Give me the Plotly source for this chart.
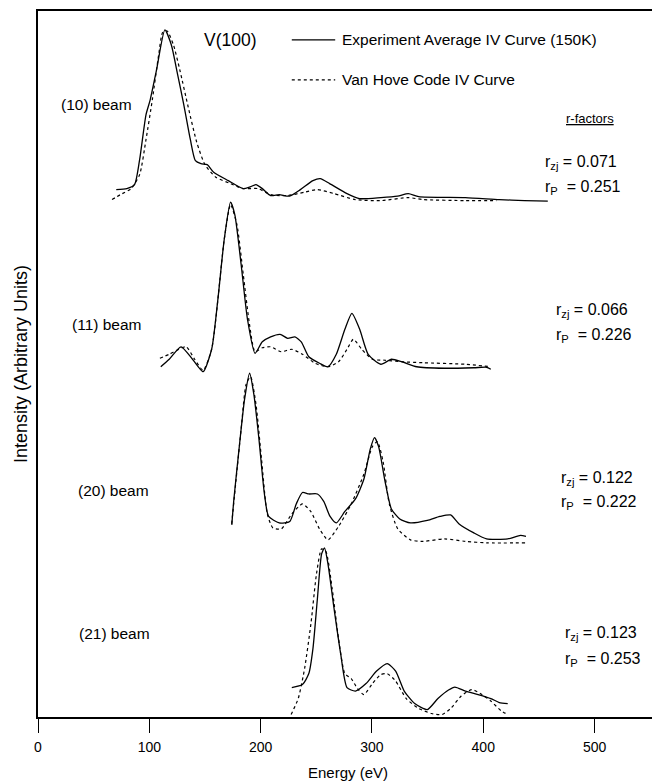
import plotly.graph_objects as go

FONT = "Liberation Sans, Arial, Helvetica, sans-serif"

# ---------------- data (energy in eV, intensity in arbitrary units, beams offset vertically) ----------------
beam_labels = ["(10) beam", "(11) beam", "(20) beam", "(21) beam"]
beam_label_x = [19, 28.5, 34, 35]
beam_label_y = [1227, 787, 454, 167]
r_zj = ["0.071", "0.066", "0.122", "0.123"]
r_p = ["0.251", "0.226", "0.222", "0.253"]
r_x = [454, 464, 468, 471.5]
r_zj_y = [1112, 815, 479, 167]
r_p_y = [1062, 765, 429, 115]

b10_exp_e = [70.3, 79.8, 86.7, 91.3, 97.0, 100.8, 106.5, 114.0, 119.8, 125.5, 131.0, 136.9, 141.4, 146.4, 152.0,
             157.8, 171.0, 184.4, 190.0, 195.8, 201.5, 209.0, 216.7, 226.0, 235.7, 247.0, 253.6, 262.0, 277.6,
             289.0, 308.0, 323.0, 332.7, 342.0, 384.0, 414.4, 437.0, 458.0]
b10_exp_i = [1057, 1059, 1067, 1117, 1207, 1237, 1297, 1377, 1347, 1287, 1227, 1157, 1115, 1109, 1107,
             1092, 1075, 1059, 1062, 1067, 1059, 1045, 1047, 1044, 1057, 1075, 1079, 1069, 1049,
             1039, 1041, 1044, 1049, 1043, 1041, 1037, 1035, 1034]
b10_th_e = [66.5, 74.0, 83.7, 91.3, 97.0, 102.7, 108.4, 112.0, 116.0, 121.7, 127.4, 135.0, 142.6, 150.0, 159.7,
            173.0, 184.4, 197.7, 209.0, 224.0, 239.5, 251.0, 266.0, 285.0, 308.0, 332.7, 346.0, 384.0, 412.0]
b10_th_i = [1037, 1047, 1059, 1087, 1157, 1237, 1327, 1372, 1375, 1347, 1297, 1222, 1152, 1107, 1082,
            1069, 1059, 1059, 1047, 1045, 1052, 1057, 1049, 1037, 1035, 1041, 1037, 1035, 1035]

b11_exp_e = [110.3, 117.9, 128.5, 138.8, 148.3, 156.0, 161.6, 167.3, 173.0, 176.8, 182.5, 188.2, 195.0, 201.5,
             209.0, 217.5, 224.3, 230.8, 236.5, 243.3, 252.9, 260.5, 268.0, 275.7, 282.0, 289.0, 296.6, 308.0,
             317.5, 327.0, 340.3, 365.0, 391.6, 403.0, 406.8]
b11_exp_i = [702, 717, 742, 717, 692, 737, 837, 957, 1032, 1007, 907, 797, 729, 752,
             762, 767, 759, 762, 752, 722, 709, 702, 727, 777, 809, 777, 727, 707,
             717, 712, 702, 699, 700, 701, 697]
b11_th_e = [109.5, 117.9, 133.0, 140.7, 148.3, 156.0, 167.3, 173.0, 178.7, 184.4, 190.0, 195.0, 201.5, 209.0,
            218.6, 228.0, 237.6, 249.0, 260.5, 270.0, 277.6, 283.3, 290.9, 300.4, 312.0, 327.0, 346.0, 384.0,
            406.8]
b11_th_i = [719, 727, 742, 717, 695, 737, 957, 1027, 987, 887, 787, 732, 740, 742,
            732, 737, 727, 709, 702, 712, 737, 757, 737, 717, 715, 712, 710, 707,
            702]

b20_exp_e = [174.1, 176.0, 180.6, 185.6, 190.1, 193.9, 198.5, 203.4, 207.2, 216.7, 226.2, 232.0, 237.6, 243.3,
             251.0, 256.7, 262.4, 268.0, 275.7, 285.2, 292.8, 298.5, 302.3, 306.0, 311.8, 317.5, 325.0, 334.6,
             349.8, 361.0, 370.7, 378.3, 391.6, 403.0, 422.0, 433.5, 438.4]
b20_exp_i = [385, 437, 537, 637, 689, 647, 557, 447, 402, 389, 392, 427, 450, 447,
             447, 432, 402, 389, 412, 437, 477, 537, 560, 542, 472, 417, 397, 389,
             394, 402, 405, 387, 369, 357, 357, 364, 362]
b20_th_e = [174.0, 178.0, 182.5, 187.0, 191.0, 195.8, 200.8, 206.0, 211.0, 218.6, 228.0, 237.6, 245.0, 252.9,
            260.5, 270.0, 281.4, 292.8, 300.4, 304.9, 310.0, 315.6, 323.2, 334.6, 346.0, 365.0, 384.0, 403.0,
            438.4]
b20_th_i = [387, 477, 577, 667, 682, 627, 517, 407, 379, 377, 407, 427, 412, 377,
            355, 382, 427, 487, 542, 552, 512, 427, 377, 355, 352, 357, 352, 349,
            349]

b21_exp_e = [228.0, 237.6, 243.3, 247.0, 251.0, 254.8, 257.4, 260.5, 266.0, 271.9, 277.6, 285.2, 294.7, 304.2,
             313.7, 321.3, 329.0, 338.4, 349.8, 359.3, 368.8, 374.5, 384.0, 395.4, 406.8, 414.4, 422.0]
b21_exp_i = [59, 65, 87, 137, 237, 327, 339, 307, 217, 127, 59, 52, 67, 92,
             107, 92, 52, 27, 15, 37, 54, 60, 52, 45, 37, 29, 27]
b21_th_e = [227.4, 233.8, 239.5, 245.2, 250.2, 254.8, 258.6, 264.3, 270.0, 275.7, 281.4, 287.0, 292.8, 300.4,
            308.0, 313.7, 321.3, 330.8, 342.2, 353.6, 363.0, 370.7, 380.2, 389.7, 397.3, 406.8, 416.3, 422.0]
b21_th_i = [5, 37, 97, 187, 287, 337, 332, 257, 157, 87, 77, 57, 45, 67,
            85, 87, 72, 37, 17, 7, 5, 17, 42, 55, 47, 32, 12, 5]

exp_series = [(b10_exp_e, b10_exp_i), (b11_exp_e, b11_exp_i), (b20_exp_e, b20_exp_i), (b21_exp_e, b21_exp_i)]
th_series = [(b10_th_e, b10_th_i), (b11_th_e, b11_th_i), (b20_th_e, b20_th_i), (b21_th_e, b21_th_i)]

series_names = ["Experiment Average IV Curve (150K)", "Van Hove Code IV Curve"]
legend_x = [228, 267, 271.5]          # key start, key end, text start (eV)
legend_y = [1357, 1277]               # key rows (arbitrary units)

x_ticks = [0, 100, 200, 300, 400, 500]
x_range = [0, 557]
y_range = [0, 1415]

SOLID = dict(color="black", width=1.3)
DASHED = dict(color="black", width=1.2, dash="3px,3px")

# ---------------- figure ----------------
fig = go.Figure()

for e, i in exp_series:
    fig.add_trace(go.Scatter(x=e, y=i, mode="lines", name=series_names[0], showlegend=False,
                             line=dict(**SOLID, shape="spline", smoothing=0.6), hoverinfo="skip"))
for e, i in th_series:
    fig.add_trace(go.Scatter(x=e, y=i, mode="lines", name=series_names[1], showlegend=False,
                             line=dict(**DASHED, shape="spline", smoothing=0.6), hoverinfo="skip"))

shapes = []
annotations = []
# legend keys + texts
for name, ly, style in zip(series_names, legend_y, [SOLID, DASHED]):
    shapes.append(dict(type="line", xref="x", yref="y", x0=legend_x[0], x1=legend_x[1], y0=ly, y1=ly,
                       line=style))
    annotations.append(dict(x=legend_x[2], y=ly, text=name, showarrow=False, xanchor="left", yanchor="middle",
                            font=dict(size=15.5, color="black", family=FONT)))

annotations.append(dict(x=173, y=1357, text="V(100)", showarrow=False,
                        font=dict(size=17.5, color="black", family=FONT), xanchor="center", yanchor="middle"))
for lab, lx, ly in zip(beam_labels, beam_label_x, beam_label_y):
    annotations.append(dict(x=lx, y=ly, text=lab, showarrow=False, xanchor="left", yanchor="middle",
                            font=dict(size=15.5, color="black", family=FONT)))
annotations.append(dict(x=472.6, y=1200, text="<u>r-factors</u>", showarrow=False, xanchor="left",
                        yanchor="middle", font=dict(size=13, color="black", family=FONT)))
for x0, zj, p, yz, yp in zip(r_x, r_zj, r_p, r_zj_y, r_p_y):
    annotations.append(dict(x=x0, y=yz, text="r<sub>zj</sub> = " + zj, showarrow=False, xanchor="left",
                            yanchor="middle", font=dict(size=16, color="black", family=FONT)))
    annotations.append(dict(x=x0, y=yp, text="r<sub>P</sub>  = " + p, showarrow=False, xanchor="left",
                            yanchor="middle", font=dict(size=16, color="black", family=FONT)))

# the page body adds an 8px margin, so the figure is 8px smaller than the window
fig.update_layout(
    width=652, height=775,
    margin=dict(l=30, r=2, t=3, b=66),
    paper_bgcolor="white", plot_bgcolor="white",
    font=dict(family=FONT, color="black", size=14),
    showlegend=False,
    shapes=shapes,
    annotations=annotations,
    xaxis=dict(range=x_range, tickvals=x_ticks, ticks="outside", ticklen=14, tickwidth=1, tickcolor="black",
               ticklabelstandoff=2,
               showline=True, linecolor="black", linewidth=1.5, mirror=True, showgrid=False, zeroline=False,
               automargin=False,
               tickfont=dict(size=14, family=FONT, color="black"),
               title=dict(text="Energy (eV)", font=dict(size=15, family=FONT, color="black"), standoff=14)),
    yaxis=dict(range=y_range, showticklabels=False, ticks="", showline=True, linecolor="black", linewidth=1.5,
               showgrid=False, zeroline=False, automargin=False,
               title=dict(text="Intensity (Arbitrary Units)", font=dict(size=18, family=FONT, color="black"),
                          standoff=4)),
)

fig.write_html("out.html")
